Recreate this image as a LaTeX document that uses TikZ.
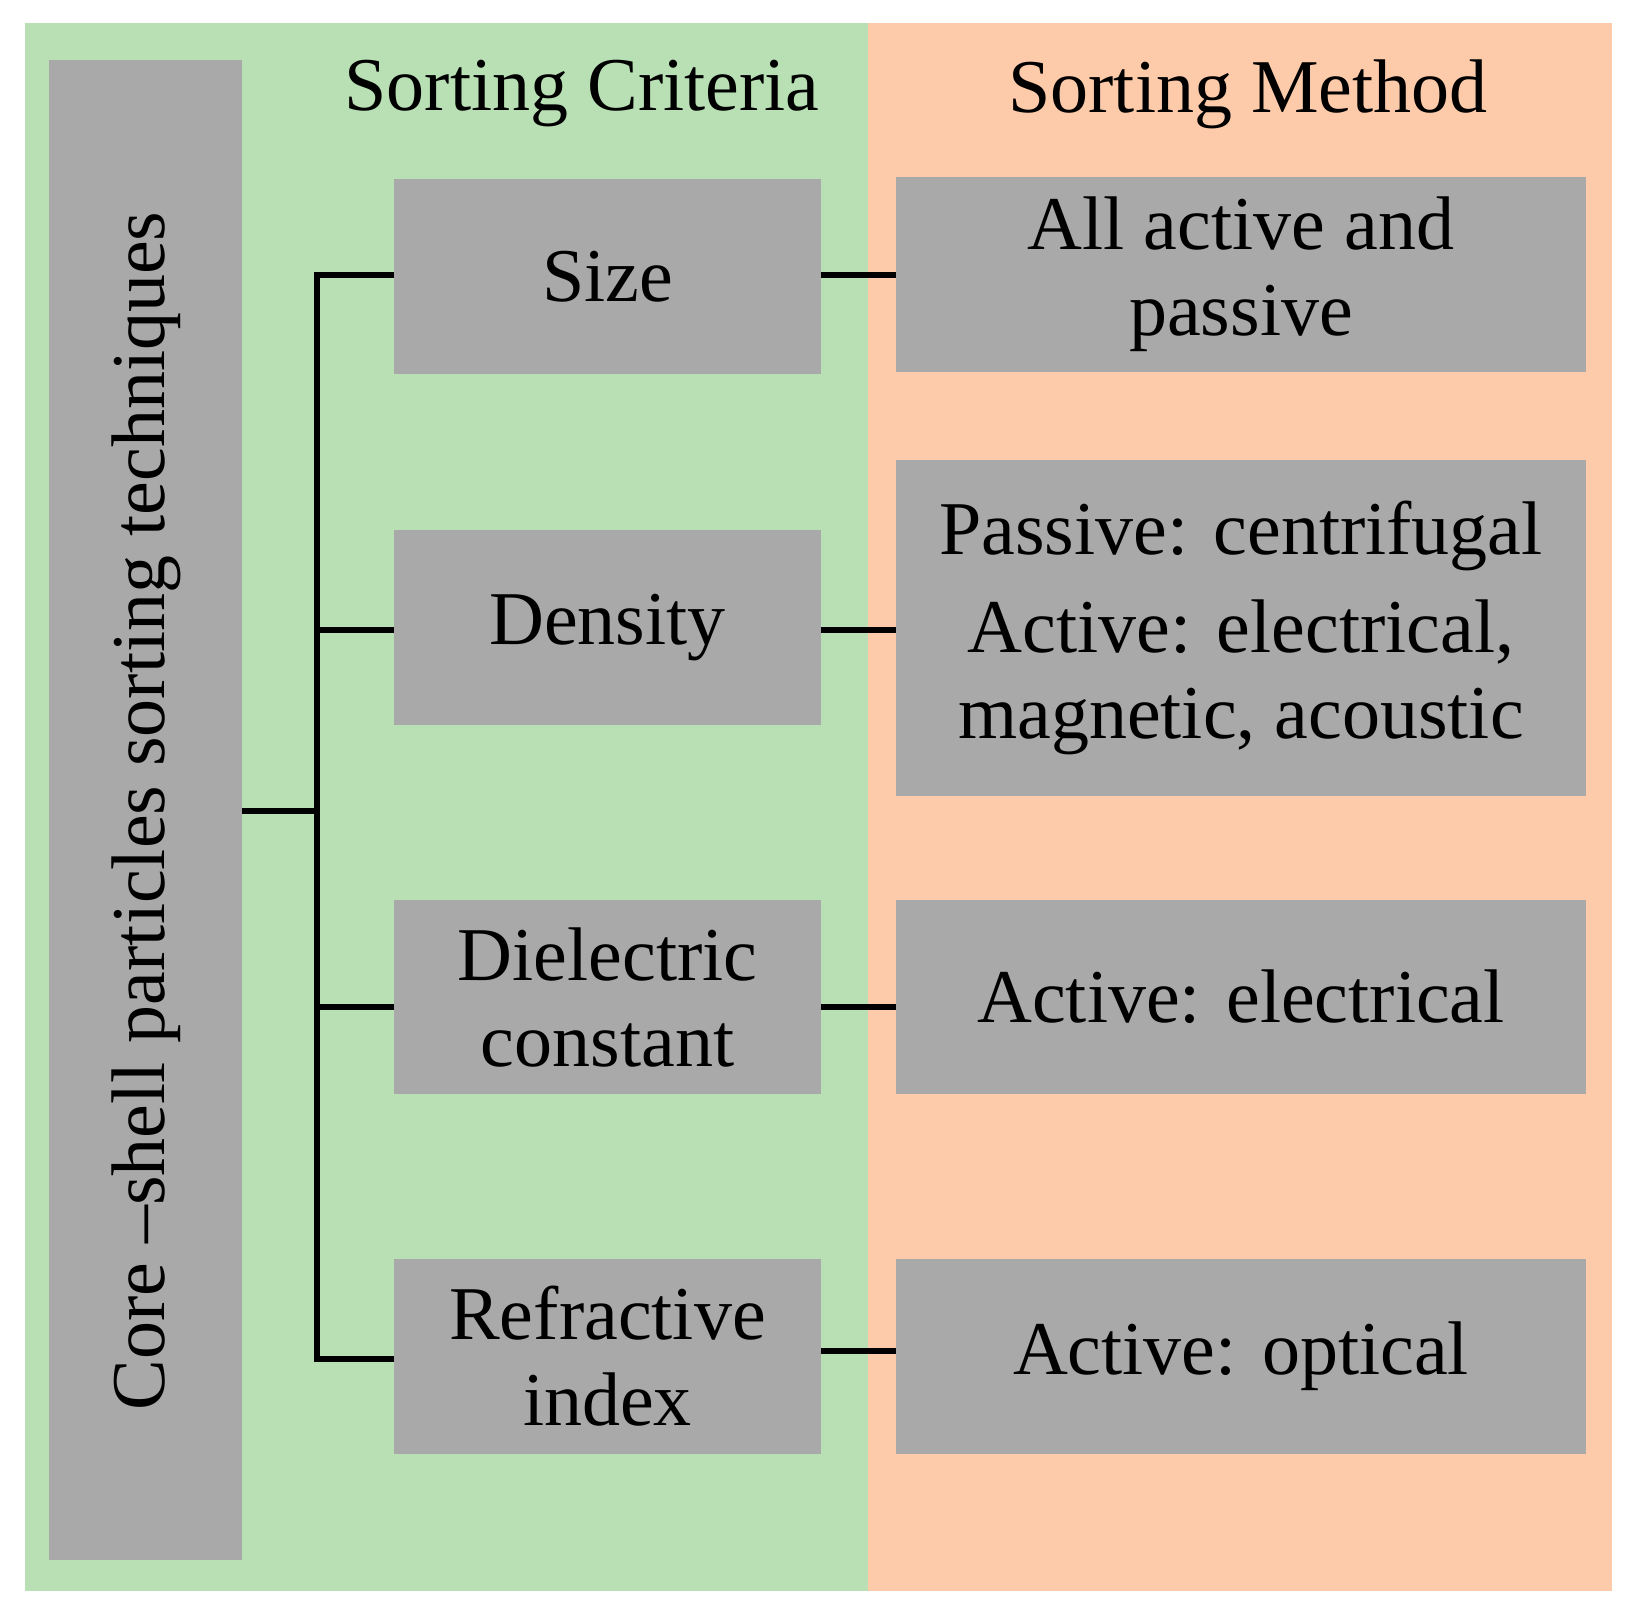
\documentclass[tikz,border=0pt]{standalone}
\usepackage{fontspec}
\setmainfont{Liberation Serif}
\begin{document}
\begin{tikzpicture}[x=0.5pt,y=-0.5pt,
  bx/.style={fill=boxgray,draw=none},
  lbl/.style={font=\fontsize{38}{43}\selectfont,align=center},
  ln/.style={line width=3pt,black}]
\definecolor{boxgray}{HTML}{A9A9A9}
\definecolor{grn}{HTML}{B9E0B4}
\definecolor{org}{HTML}{FDCBAA}
\useasboundingbox (0,0) rectangle (1630,1616);
\fill[grn] (25,23) rectangle (868,1591);
\fill[org] (868,23) rectangle (1612,1591);
\fill[bx] (49,60) rectangle (242,1560);
\node[lbl,rotate=90] (core) at (146,811) {Core –shell particles sorting techniques};
\node[lbl] (hc) at (582,94) {Sorting Criteria};
\node[lbl] (hm) at (1248,94) {Sorting Method};
\foreach \n/\y/\yy/\t in {s/179/374/Size, d/530/725/Density, e/900/1094/{Dielectric\\constant}, r/1259/1454/{Refractive\\index}}{
  \fill[bx] (394,\y) rectangle (821,\yy);
  \node[lbl] (\n) at (607.5,{(\y+\yy)/2}) {\t};
}
\foreach \n/\y/\yy/\t in {ms/177/372/{All active and\\passive}, md/460/796/{Passive: centrifugal\\[6pt]Active: electrical,\\magnetic, acoustic}, me/900/1094/{Active: electrical}, mr/1259/1454/{Active: optical}}{
  \fill[bx] (896,\y) rectangle (1586,\yy);
  \node[lbl] (\n) at (1241,{(\y+\yy)/2}) {\t};
}
\coordinate (t0) at (317,811);
\draw[ln] (242,811) -- (t0);
\draw[ln] (394,275) -- (317,275) -- (317,1359) -- (394,1359);
\draw[ln] (317,630) -- (394,630);
\draw[ln] (317,1007) -- (394,1007);
\draw[ln] (821,275) -- (896,275);
\draw[ln] (821,630) -- (896,630);
\draw[ln] (821,1007) -- (896,1007);
\draw[ln] (821,1351) -- (896,1351);
\end{tikzpicture}
\end{document}
